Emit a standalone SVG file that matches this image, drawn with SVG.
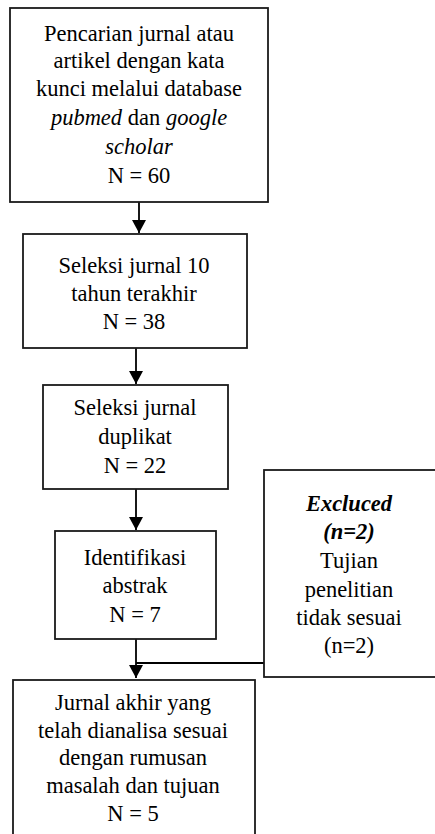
<svg xmlns="http://www.w3.org/2000/svg" width="435" height="834" viewBox="0 0 435 834">
<style>
.box{fill:#fff;stroke:#1a1a1a;stroke-width:1.8}
.c{fill:none;stroke:#000;stroke-width:1.8}
</style>
<defs>
<marker id="ah" markerUnits="userSpaceOnUse" markerWidth="14" markerHeight="14" refX="13" refY="7" orient="auto">
<path d="M0,0 L13,7 L0,14 Z" fill="#000"/>
</marker>
</defs>
<rect width="435" height="834" fill="#fff"/>
<g id="connectors">
<line class="c" x1="139" y1="202" x2="139" y2="233" marker-end="url(#ah)"/>
<line class="c" x1="136" y1="348" x2="136" y2="384" marker-end="url(#ah)"/>
<line class="c" x1="136" y1="489" x2="136" y2="530" marker-end="url(#ah)"/>
<line class="c" x1="136" y1="639" x2="136" y2="678" marker-end="url(#ah)"/>
<line class="c" x1="264" y1="663" x2="136" y2="663"/>
</g>
<g id="n1">
<rect class="box" x="10" y="8" width="258" height="194"/>
<text x="139" y="41" font-family="Liberation Serif" font-size="22.5" text-anchor="middle">Pencarian jurnal atau</text>
<text x="139" y="68" font-family="Liberation Serif" font-size="22.5" text-anchor="middle">artikel dengan kata</text>
<text x="139" y="96" font-family="Liberation Serif" font-size="22.5" text-anchor="middle">kunci melalui database</text>
<text x="139" y="125" font-family="Liberation Serif" font-size="22.5" text-anchor="middle"><tspan font-style="italic">pubmed</tspan> dan <tspan font-style="italic">google</tspan></text>
<text x="139" y="154" font-family="Liberation Serif" font-size="22.5" text-anchor="middle" font-style="italic">scholar</text>
<text x="139" y="183" font-family="Liberation Serif" font-size="22.5" text-anchor="middle">N = 60</text>
</g>
<g id="n2">
<rect class="box" x="23" y="234" width="224" height="114"/>
<text x="134" y="273" font-family="Liberation Serif" font-size="22.5" text-anchor="middle">Seleksi jurnal 10</text>
<text x="134" y="301" font-family="Liberation Serif" font-size="22.5" text-anchor="middle">tahun terakhir</text>
<text x="134" y="329" font-family="Liberation Serif" font-size="22.5" text-anchor="middle">N = 38</text>
</g>
<g id="n3">
<rect class="box" x="43" y="385" width="185" height="104"/>
<text x="135" y="415" font-family="Liberation Serif" font-size="22.5" text-anchor="middle">Seleksi jurnal</text>
<text x="135" y="444" font-family="Liberation Serif" font-size="22.5" text-anchor="middle">duplikat</text>
<text x="135" y="473" font-family="Liberation Serif" font-size="22.5" text-anchor="middle">N = 22</text>
</g>
<g id="n4">
<rect class="box" x="55" y="531" width="161" height="108"/>
<text x="135" y="565" font-family="Liberation Serif" font-size="22.5" text-anchor="middle">Identifikasi</text>
<text x="135" y="593" font-family="Liberation Serif" font-size="22.5" text-anchor="middle">abstrak</text>
<text x="135" y="622" font-family="Liberation Serif" font-size="22.5" text-anchor="middle">N = 7</text>
</g>
<g id="excluded">
<rect class="box" x="264" y="470" width="200" height="207"/>
<text x="349" y="511" font-family="Liberation Serif" font-size="22.5" text-anchor="middle" font-style="italic" font-weight="bold">Excluced</text>
<text x="349" y="539" font-family="Liberation Serif" font-size="22.5" text-anchor="middle" font-style="italic" font-weight="bold">(n=2)</text>
<text x="349" y="568" font-family="Liberation Serif" font-size="22.5" text-anchor="middle">Tujian</text>
<text x="349" y="597" font-family="Liberation Serif" font-size="22.5" text-anchor="middle">penelitian</text>
<text x="349" y="625" font-family="Liberation Serif" font-size="22.5" text-anchor="middle">tidak sesuai</text>
<text x="349" y="653" font-family="Liberation Serif" font-size="22.5" text-anchor="middle">(n=2)</text>
</g>
<g id="n5">
<rect class="box" x="13" y="680" width="242" height="180"/>
<text x="133" y="710" font-family="Liberation Serif" font-size="22.5" text-anchor="middle">Jurnal akhir yang</text>
<text x="133" y="738" font-family="Liberation Serif" font-size="22.5" text-anchor="middle">telah dianalisa sesuai</text>
<text x="133" y="765" font-family="Liberation Serif" font-size="22.5" text-anchor="middle">dengan rumusan</text>
<text x="133" y="793" font-family="Liberation Serif" font-size="22.5" text-anchor="middle">masalah dan tujuan</text>
<text x="133" y="821" font-family="Liberation Serif" font-size="22.5" text-anchor="middle">N = 5</text>
</g>
</svg>
